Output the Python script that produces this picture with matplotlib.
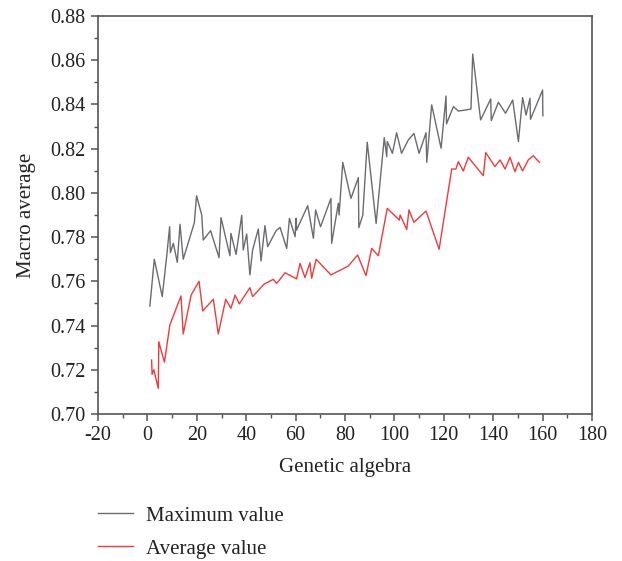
"""Macro average vs genetic algebra"""

import matplotlib

matplotlib.use("Agg")
import matplotlib.pyplot as plt
from matplotlib.ticker import MultipleLocator, FormatStrFormatter

# maximum value series
max_gen = [1.0, 2.8, 6.0, 7.8, 9.0, 9.3, 10.5, 12.1, 13.2, 14.5, 19.0, 19.9, 22.0, 22.6,
           25.6, 29.0, 29.8, 33.4, 33.8, 35.9, 38.2, 38.8, 40.2, 41.5, 42.6, 44.9, 46.0,
           47.6, 48.7, 52.1, 53.7, 56.4, 57.5, 59.8, 60.2, 60.4, 64.9, 67.2, 68.1, 70.1,
           74.3, 74.6, 77.3, 77.6, 79.1, 82.4, 85.4, 85.6, 87.2, 89.0, 92.6, 95.9, 96.9,
           97.1, 99.2, 100.9, 102.9, 105.6, 107.9, 110.0, 112.8, 113.1, 115.1, 118.9,
           120.9, 121.1, 122.5, 123.9, 125.9, 131.0, 131.7, 134.9, 139.0, 139.2, 142.1,
           145.0, 147.9, 150.2, 151.9, 153.3, 154.9, 155.1, 160.0, 160.1]
max_val = [0.7488, 0.7700, 0.7531, 0.7712, 0.7847, 0.7730, 0.7772, 0.7686, 0.7858,
           0.7700, 0.7865, 0.7987, 0.7900, 0.7787, 0.7829, 0.7707, 0.7888, 0.7716,
           0.7817, 0.7722, 0.7899, 0.7742, 0.7814, 0.7629, 0.7742, 0.7837, 0.7692,
           0.7852, 0.7757, 0.7829, 0.7844, 0.7749, 0.7885, 0.7802, 0.7885, 0.7832,
           0.7942, 0.7795, 0.7923, 0.7847, 0.7975, 0.7772, 0.7953, 0.7900, 0.8138,
           0.7975, 0.8069, 0.7843, 0.7900, 0.8229, 0.7862, 0.8250, 0.8164, 0.8232,
           0.8179, 0.8272, 0.8179, 0.8239, 0.8269, 0.8179, 0.8272, 0.8138, 0.8398,
           0.8202, 0.8438, 0.8312, 0.8352, 0.8390, 0.8370, 0.8379, 0.8628, 0.8330,
           0.8425, 0.8327, 0.8410, 0.8360, 0.8420, 0.8232, 0.8431, 0.8352, 0.8428,
           0.8333, 0.8465, 0.8349]

# average value series
avg_gen = [1.7, 1.9, 2.6, 4.4, 4.6, 6.9, 9.1, 13.6, 14.5, 17.7, 20.9, 22.4, 26.7, 28.7,
           31.7, 33.8, 35.5, 37.2, 41.5, 42.6, 47.3, 51.0, 52.3, 53.7, 55.7, 60.4, 61.8,
           63.8, 65.8, 66.5, 68.3, 74.3, 81.3, 85.1, 88.5, 90.8, 93.5, 97.1, 102.0,
           102.3, 105.0, 105.9, 107.9, 112.8, 118.1, 123.2, 124.9, 125.9, 127.9, 129.9,
           136.0, 137.0, 140.7, 142.8, 144.8, 146.8, 148.8, 150.2, 151.9, 154.2, 156.2,
           158.7]
avg_val = [0.7244, 0.7179, 0.7200, 0.7116, 0.7327, 0.7234, 0.7403, 0.7534, 0.7362,
           0.7538, 0.7600, 0.7466, 0.7519, 0.7362, 0.7519, 0.7478, 0.7538, 0.7498,
           0.7571, 0.7531, 0.7588, 0.7609, 0.7591, 0.7609, 0.7639, 0.7611, 0.7681,
           0.7617, 0.7684, 0.7614, 0.7700, 0.7629, 0.7669, 0.7719, 0.7626, 0.7749,
           0.7716, 0.7930, 0.7877, 0.7900, 0.7835, 0.7923, 0.7867, 0.7918, 0.7745,
           0.8108, 0.8108, 0.8141, 0.8099, 0.8161, 0.8078, 0.8182, 0.8119, 0.8149,
           0.8108, 0.8161, 0.8096, 0.8138, 0.8099, 0.8149, 0.8168, 0.8138]

series_labels = ["Maximum value", "Average value"]

plt.rcParams["font.family"] = ["Liberation Serif", "DejaVu Serif"]
plt.rcParams["axes.unicode_minus"] = False  # reference shows a plain hyphen

fig = plt.figure(figsize=(6.22, 5.61), dpi=100)
ax = fig.add_axes([98 / 622, 1 - 414 / 561, (592 - 98) / 622, (414 - 16) / 561])

(h_max,) = ax.plot(max_gen, max_val, color="#6b6b70", lw=1.0, label=series_labels[0])
(h_avg,) = ax.plot(avg_gen, avg_val, color="#ee3b3b", lw=1.0, label=series_labels[1])

ax.set_xlim(-20, 180)
ax.set_ylim(0.70, 0.88)
ax.xaxis.set_major_locator(MultipleLocator(20))
ax.xaxis.set_minor_locator(MultipleLocator(10))
ax.yaxis.set_major_locator(MultipleLocator(0.02))
ax.yaxis.set_minor_locator(MultipleLocator(0.01))
ax.yaxis.set_major_formatter(FormatStrFormatter("%.2f"))

for side in ["left", "bottom", "top", "right"]:
    ax.spines[side].set_color("#555555")
    ax.spines[side].set_linewidth(1.2)
ax.tick_params(which="major", direction="out", length=5, width=1.1, color="#555555",
               labelsize=14.5, pad=4, labelcolor="#222222")
ax.tick_params(which="minor", direction="out", length=3, width=1.0, color="#555555")

ax.set_xlabel("Genetic algebra", fontsize=15, labelpad=9, color="#222222")
ax.set_ylabel("Macro average", fontsize=15, labelpad=10, color="#222222")

fig.legend(handles=[h_max, h_avg], loc="upper left", bbox_to_anchor=(98 / 622, 1 - 506 / 561),
           frameon=False, fontsize=15, handlelength=1.7, handletextpad=0.6,
           labelspacing=0.65, borderpad=0, borderaxespad=0, labelcolor="#222222")

fig.savefig("out.png", dpi=100)
